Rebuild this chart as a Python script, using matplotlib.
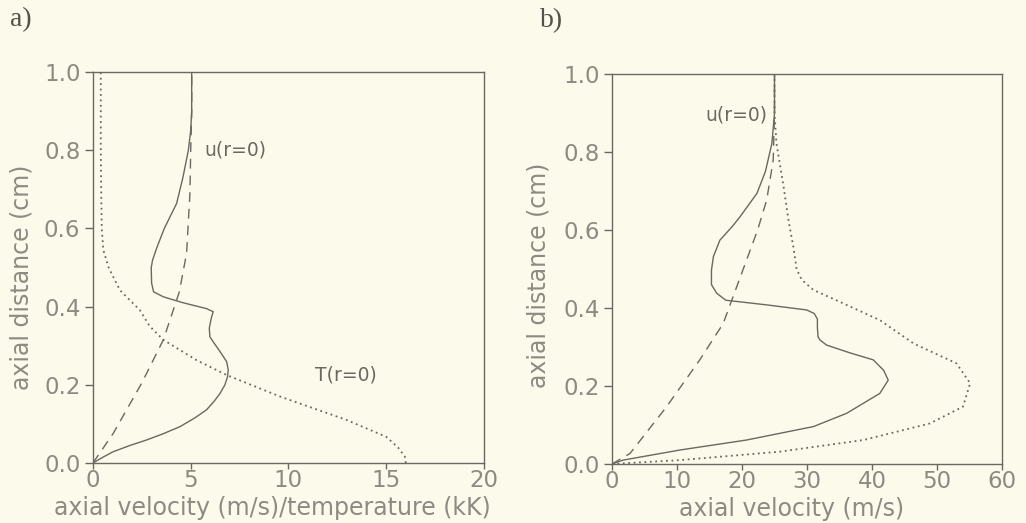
"""Axial profiles on the symmetry axis: a) velocity/temperature, b) velocity."""

import matplotlib
matplotlib.use("Agg")
import matplotlib.pyplot as plt

# panel a) -- solid: u(r=0), dashed: reference velocity, dotted: T(r=0) in kK
a_solid_z = [0, 0.016, 0.029, 0.045, 0.059, 0.075, 0.093, 0.115, 0.136, 0.158, 0.178,
             0.2, 0.22, 0.238, 0.259, 0.285, 0.31, 0.323, 0.345, 0.37, 0.387, 0.395,
             0.41, 0.425, 0.438, 0.46, 0.5, 0.519, 0.55, 0.6, 0.664, 0.73, 0.8, 0.85,
             0.9, 1.0]
a_solid_u = [0, 0.55, 1.04, 1.9, 2.75, 3.6, 4.45, 5.2, 5.81, 6.2, 6.5,
             6.75, 6.88, 6.92, 6.84, 6.5, 6.15, 5.98, 5.95, 6.05, 6.15, 5.8,
             4.6, 3.6, 3.1, 3.0, 2.98, 3.05, 3.26, 3.65, 4.28, 4.6, 4.88, 5.0,
             5.05, 5.05]

a_dash_z = [0, 0.076, 0.204, 0.315, 0.438, 0.537, 0.69, 0.8, 0.894, 1.0]
a_dash_u = [0, 1.04, 2.49, 3.6, 4.42, 4.79, 4.96, 5.0, 5.05, 5.05]

a_temp_z = [0, 0.016, 0.04, 0.067, 0.11, 0.17, 0.225, 0.263, 0.315, 0.35, 0.391,
            0.442, 0.5, 0.545, 0.6, 0.7, 0.8, 1.0]
a_temp_T = [16.0, 15.96, 15.6, 15.0, 12.98, 9.57, 6.84, 5.3, 3.6, 2.9, 2.4,
            1.38, 0.8, 0.53, 0.45, 0.42, 0.4, 0.4]

# panel b) -- three velocity profiles (m/s)
b_solid_z = [0, 0.01, 0.036, 0.0615, 0.096, 0.13, 0.181, 0.215, 0.24, 0.267, 0.285,
             0.305, 0.318, 0.326, 0.35, 0.372, 0.386, 0.395, 0.408, 0.42, 0.438, 0.46,
             0.497, 0.532, 0.574, 0.609, 0.634, 0.694, 0.75, 0.822, 0.9, 1.0]
b_solid_u = [0, 1.7, 10.5, 20.7, 31.0, 36.1, 41.2, 42.5, 41.8, 40.2, 36.6,
             33.0, 32.0, 31.7, 31.6, 31.6, 31.1, 29.95, 23.8, 17.5, 16.1, 15.3,
             15.3, 15.6, 16.6, 18.5, 19.7, 22.3, 23.6, 24.6, 25.0, 25.0]

b_dash_z = [0, 0.027, 0.147, 0.267, 0.36, 0.455, 0.523, 0.6, 0.677, 0.779, 0.9, 1.0]
b_dash_u = [0, 2.77, 8.4, 13.5, 17.1, 19.2, 20.7, 22.4, 23.8, 24.8, 25.0, 25.0]

b_dot_z = [0, 0.01, 0.0316, 0.0615, 0.104, 0.147, 0.207, 0.258, 0.309, 0.369, 0.42,
           0.446, 0.472, 0.5, 0.557, 0.62, 0.711, 0.822, 0.9, 1.0]
b_dot_u = [0, 10.5, 25.8, 38.7, 48.9, 54.0, 55.1, 53.0, 46.4, 41.2, 34.5,
           31.0, 29.2, 28.4, 27.9, 27.2, 26.4, 25.3, 25.0, 25.0]

y_ticks = [0.0, 0.2, 0.4, 0.6, 0.8, 1.0]
a_xticks = [0, 5, 10, 15, 20]
b_xticks = [0, 10, 20, 30, 40, 50, 60]

BG = "#fcfaea"
INK = "#6b6761"
LABEL = "#8e8a83"

fig = plt.figure(figsize=(10.26, 5.23), dpi=100, facecolor=BG)
ax_a = fig.add_axes([0.0906, 0.1147, 0.3811, 0.7476])
ax_b = fig.add_axes([0.5965, 0.1128, 0.3801, 0.7457])

def style_axes(ax, xmax, xticks, xlabel, ylab_x, ylab_y):
    ax.set_facecolor(BG)
    ax.set_xlim(0, xmax)
    ax.set_ylim(0, 1)
    ax.set_xticks(xticks)
    ax.set_yticks(y_ticks)
    ax.set_yticklabels(["{:.1f}".format(t) for t in y_ticks])
    for s in ax.spines.values():
        s.set_color(INK)
        s.set_linewidth(1.0)
    ax.tick_params(axis="both", colors=INK, labelcolor=LABEL, labelsize=16.5,
                   width=1.0)
    ax.tick_params(axis="x", length=4, pad=0)
    ax.tick_params(axis="y", length=6, pad=3)
    ax.set_xlabel(xlabel, fontsize=17, color=LABEL)
    ax.set_ylabel("axial distance (cm)", fontsize=17, color=LABEL)
    ax.xaxis.set_label_coords(0.46, -0.085)
    ax.yaxis.set_label_coords(ylab_x, ylab_y)

line_kw = dict(color=INK, linewidth=1.0)
dot_kw = dict(color=INK, linewidth=1.3, linestyle=(0, (1, 2)))

ax_a.plot(a_solid_u, a_solid_z, linestyle="-", **line_kw)
ax_a.plot(a_dash_u, a_dash_z, linestyle=(0, (7, 5)), **line_kw)
ax_a.plot(a_temp_T, a_temp_z, **dot_kw)
ax_a.text(5.68, 0.80, "u(r=0)", fontsize=13.5, color=INK, va="center")
ax_a.text(11.36, 0.225, "T(r=0)", fontsize=13.5, color=INK, va="center")
style_axes(ax_a, 20, a_xticks, "axial velocity (m/s)/temperature (kK)", -0.153, 0.476)

ax_b.plot(b_solid_u, b_solid_z, linestyle="-", **line_kw)
ax_b.plot(b_dash_u, b_dash_z, linestyle=(0, (7, 5)), **line_kw)
ax_b.plot(b_dot_u, b_dot_z, **dot_kw)
ax_b.text(23.9, 0.895, "u(r=0)", fontsize=13.5, color=INK, va="center", ha="right")
style_axes(ax_b, 60, b_xticks, "axial velocity (m/s)", -0.159, 0.485)

fig.text(0.010, 0.963, "a)", fontsize=20, family="Liberation Serif", color="#555049",
         va="center")
fig.text(0.526, 0.961, "b)", fontsize=20, family="Liberation Serif", color="#555049",
         va="center")

fig.savefig("out.png", dpi=100, facecolor=BG)
